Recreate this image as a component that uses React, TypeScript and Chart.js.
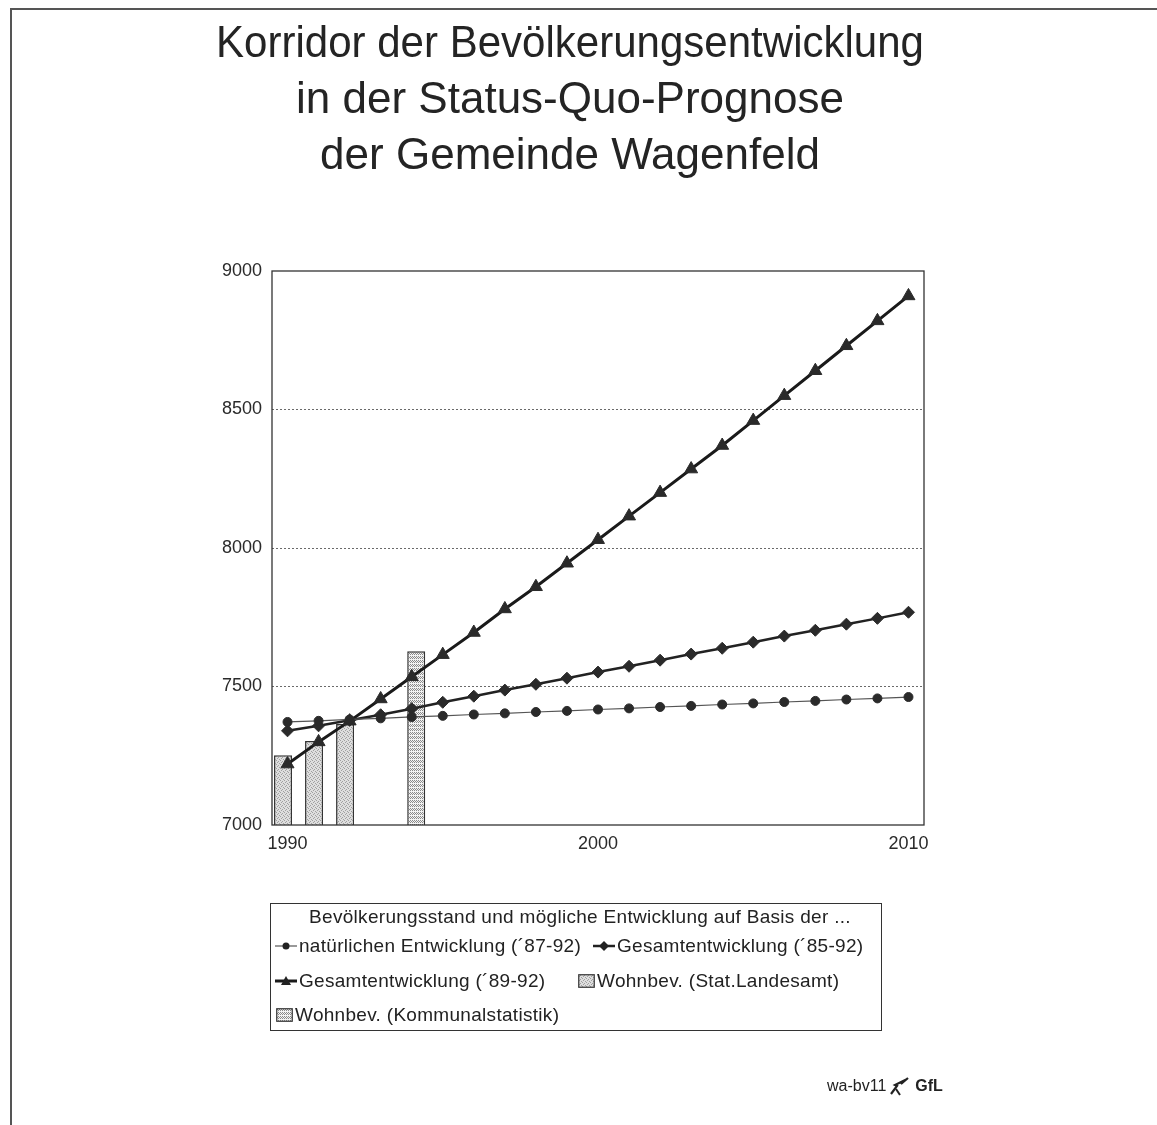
import React, { useEffect, useRef } from 'react';
import { Chart, registerables } from 'chart.js';

Chart.register(...registerables);

const FONT = '"Liberation Sans", Arial, Helvetica, sans-serif';

const titleLines = [
  'Korridor der Bevölkerungsentwicklung',
  'in der Status-Quo-Prognose',
  'der Gemeinde Wagenfeld',
];

const years = [
  '1990', '1991', '1992', '1993', '1994', '1995', '1996', '1997', '1998', '1999', '2000',
  '2001', '2002', '2003', '2004', '2005', '2006', '2007', '2008', '2009', '2010',
];
const shownYearTicks = ['1990', '2000', '2010'];
const yTicks = [7000, 7500, 8000, 8500, 9000];

const natuerlich8792 = [
  7372, 7376, 7381, 7385, 7390, 7394, 7399, 7403, 7408, 7412, 7417,
  7421, 7426, 7430, 7435, 7439, 7444, 7448, 7453, 7457, 7462,
];
const gesamt8592 = [
  7340, 7358, 7378, 7398, 7420, 7443, 7465, 7487, 7508, 7530, 7552,
  7573, 7595, 7617, 7638, 7660, 7682, 7703, 7725, 7746, 7768,
];
const gesamt8992 = [
  7220, 7300, 7375, 7455, 7535, 7615, 7695, 7780, 7860, 7945, 8030,
  8115, 8200, 8285, 8370, 8460, 8550, 8640, 8730, 8820, 8910,
];
const wohnStatLandesamt = [
  7252, 7303, 7365, null, null, null, null, null, null, null, null,
  null, null, null, null, null, null, null, null, null, null,
];
const wohnKommunal = [
  null, null, null, null, 7627, null, null, null, null, null, null,
  null, null, null, null, null, null, null, null, null, null,
];

const legendTitle = 'Bevölkerungsstand und mögliche Entwicklung auf Basis der ...';
const seriesLabels = [
  'natürlichen Entwicklung (´87-92)',
  'Gesamtentwicklung (´85-92)',
  'Gesamtentwicklung (´89-92)',
  'Wohnbev. (Stat.Landesamt)',
  'Wohnbev. (Kommunalstatistik)',
];
const footerCode = 'wa-bv11';
const footerBrand = 'GfL';

function makePattern(kind: 'fine' | 'check'): CanvasPattern | string {
  const c = document.createElement('canvas');
  c.width = 4;
  c.height = 4;
  const g = c.getContext('2d');
  if (!g) return '#ccc';
  if (kind === 'fine') {
    g.fillStyle = '#dedede';
    g.fillRect(0, 0, 4, 4);
    g.fillStyle = '#a0a0a0';
    g.fillRect(0, 0, 1, 1);
    g.fillRect(2, 1, 1, 1);
    g.fillRect(1, 2, 1, 1);
    g.fillRect(3, 3, 1, 1);
  } else {
    g.fillStyle = '#f2f2f2';
    g.fillRect(0, 0, 4, 4);
    g.fillStyle = '#8a8a8a';
    g.fillRect(0, 0, 1, 1);
    g.fillRect(2, 0, 1, 1);
    g.fillRect(1, 1, 1, 1);
    g.fillRect(3, 1, 1, 1);
    g.fillRect(0, 2, 1, 1);
    g.fillRect(2, 2, 1, 1);
  }
  const p = g.createPattern(c, 'repeat');
  return p || '#ccc';
}

const framePlugin = {
  id: 'frameBox',
  afterDatasetsDraw(chart: any) {
    const { ctx, chartArea } = chart;
    ctx.save();
    ctx.strokeStyle = '#333';
    ctx.lineWidth = 1.3;
    ctx.strokeRect(chartArea.left, chartArea.top, chartArea.right - chartArea.left, chartArea.bottom - chartArea.top);
    ctx.restore();
  },
};

function LineIcon({ kind, lw, color }: { kind: string; lw: number; color: string }) {
  let marker: any = null;
  if (kind === 'circle') marker = <circle cx={11} cy={9} r={3.5} fill="#222" />;
  if (kind === 'diamond') marker = <polygon points="11,4 16,9 11,14 6,9" fill="#222" />;
  if (kind === 'triangle') marker = <polygon points="11,4 16,13 6,13" fill="#222" />;
  return (
    <svg width={22} height={18} style={{ display: 'block' }}>
      <line x1={0} y1={9} x2={22} y2={9} stroke={color} strokeWidth={lw} />
      {marker}
    </svg>
  );
}

function BoxIcon({ kind }: { kind: 'fine' | 'check' }) {
  const id = 'pat-' + kind;
  return (
    <svg width={17} height={14} style={{ display: 'block' }}>
      <defs>
        {kind === 'fine' ? (
          <pattern id={id} width={4} height={4} patternUnits="userSpaceOnUse">
            <rect width={4} height={4} fill="#dedede" />
            <rect x={0} y={0} width={1} height={1} fill="#a0a0a0" />
            <rect x={2} y={1} width={1} height={1} fill="#a0a0a0" />
            <rect x={1} y={2} width={1} height={1} fill="#a0a0a0" />
            <rect x={3} y={3} width={1} height={1} fill="#a0a0a0" />
          </pattern>
        ) : (
          <pattern id={id} width={4} height={4} patternUnits="userSpaceOnUse">
            <rect width={4} height={4} fill="#f2f2f2" />
            <rect x={0} y={0} width={1} height={1} fill="#8a8a8a" />
            <rect x={2} y={0} width={1} height={1} fill="#8a8a8a" />
            <rect x={1} y={1} width={1} height={1} fill="#8a8a8a" />
            <rect x={3} y={1} width={1} height={1} fill="#8a8a8a" />
            <rect x={0} y={2} width={1} height={1} fill="#8a8a8a" />
            <rect x={2} y={2} width={1} height={1} fill="#8a8a8a" />
          </pattern>
        )}
      </defs>
      <rect x={0.75} y={0.75} width={15.5} height={12.5} fill={`url(#${id})`} stroke="#333" strokeWidth={1.2} />
    </svg>
  );
}

export default function App() {
  const canvasRef = useRef<HTMLCanvasElement | null>(null);

  useEffect(() => {
    const canvas = canvasRef.current;
    if (!canvas) return;
    const finePat = makePattern('fine');
    const checkPat = makePattern('check');

    const chart = new Chart(canvas, {
      type: 'bar',
      data: {
        labels: years,
        datasets: [
          {
            type: 'line',
            label: seriesLabels[0],
            data: natuerlich8792,
            borderColor: '#555',
            borderWidth: 1.2,
            backgroundColor: '#2a2a2a',
            pointStyle: 'circle',
            pointRadius: 4.5,
            pointBackgroundColor: '#2a2a2a',
            pointBorderColor: '#2a2a2a',
            pointBorderWidth: 1,
            tension: 0,
            order: 1,
          },
          {
            type: 'line',
            label: seriesLabels[1],
            data: gesamt8592,
            borderColor: '#222',
            borderWidth: 2.5,
            backgroundColor: '#2a2a2a',
            pointStyle: 'rectRot',
            pointRadius: 6,
            pointBackgroundColor: '#2a2a2a',
            pointBorderColor: '#2a2a2a',
            pointBorderWidth: 1,
            tension: 0,
            order: 1,
          },
          {
            type: 'line',
            label: seriesLabels[2],
            data: gesamt8992,
            borderColor: '#1a1a1a',
            borderWidth: 3,
            backgroundColor: '#2a2a2a',
            pointStyle: 'triangle',
            pointRadius: 7.5,
            pointBackgroundColor: '#2a2a2a',
            pointBorderColor: '#2a2a2a',
            pointBorderWidth: 1,
            tension: 0,
            order: 1,
          },
          {
            type: 'bar',
            label: seriesLabels[3],
            data: wohnStatLandesamt as any,
            backgroundColor: finePat as any,
            borderColor: '#333',
            borderWidth: 1.5,
            borderSkipped: 'bottom',
            categoryPercentage: 0.58,
            barPercentage: 2.0,
            order: 2,
          },
          {
            type: 'bar',
            label: seriesLabels[4],
            data: wohnKommunal as any,
            backgroundColor: checkPat as any,
            borderColor: '#333',
            borderWidth: 1.5,
            borderSkipped: 'bottom',
            categoryPercentage: 0.58,
            barPercentage: 2.0,
            order: 2,
          },
        ] as any,
      },
      options: {
        responsive: false,
        animation: false,
        layout: { padding: { left: 216, right: 233, top: 0, bottom: 270 } },
        plugins: {
          legend: { display: false },
          tooltip: { enabled: false },
          title: {
            display: true,
            text: titleLines,
            color: '#242424',
            font: { family: FONT, size: 44, weight: 'normal', lineHeight: 56 / 44 },
            padding: { top: 17, bottom: 86 },
          },
        },
        scales: {
          x: {
            type: 'category',
            offset: true,
            grid: { display: false, drawTicks: false },
            border: { display: false },
            ticks: {
              autoSkip: false,
              maxRotation: 0,
              minRotation: 0,
              padding: 8,
              color: '#2a2a2a',
              font: { family: FONT, size: 18 },
              callback: (_v: any, i: number) => (shownYearTicks.includes(years[i]) ? years[i] : ''),
            },
            afterFit: (s: any) => {
              s.height = 30;
            },
          },
          y: {
            min: yTicks[0],
            max: yTicks[yTicks.length - 1],
            grid: {
              drawTicks: false,
              lineWidth: 1,
              color: (ctx: any) =>
                ctx.tick && (ctx.tick.value === yTicks[0] || ctx.tick.value === yTicks[yTicks.length - 1])
                  ? 'rgba(0,0,0,0)'
                  : '#6a6a6a',
            },
            border: { display: false, dash: [2, 2] },
            ticks: {
              stepSize: yTicks[1] - yTicks[0],
              padding: 10,
              color: '#2a2a2a',
              font: { family: FONT, size: 18 },
              callback: (v: any) => String(v),
            },
            afterFit: (s: any) => {
              s.width = 56;
            },
          },
        },
      },
      plugins: [framePlugin],
    } as any);

    return () => chart.destroy();
  }, []);

  const textStyle: React.CSSProperties = {
    fontFamily: FONT,
    fontSize: 19,
    letterSpacing: '0.3px',
    color: '#222',
    whiteSpace: 'nowrap',
    lineHeight: '22px',
  };

  const item = (left: number, top: number, icon: React.ReactNode, iconW: number, label: string) => (
    <div style={{ position: 'absolute', left, top, display: 'flex', alignItems: 'center', height: 22 }}>
      <div style={{ width: iconW, display: 'flex', alignItems: 'center' }}>{icon}</div>
      <span style={textStyle}>{label}</span>
    </div>
  );

  return (
    <div
      style={{
        position: 'absolute',
        left: 0,
        top: 0,
        width: 1157,
        height: 1125,
        overflow: 'hidden',
        background: '#fff',
      }}
    >
      <div
        style={{
          position: 'absolute',
          left: 10,
          top: 8,
          width: 1160,
          height: 1130,
          borderLeft: '2px solid #555',
          borderTop: '2px solid #555',
        }}
      />
      <canvas ref={canvasRef} width={1157} height={1125} style={{ position: 'absolute', left: 0, top: 0 }} />
      <div
        style={{
          position: 'absolute',
          left: 270,
          top: 903,
          width: 612,
          height: 128,
          border: '1.5px solid #333',
          boxSizing: 'border-box',
        }}
      >
        <div style={{ ...textStyle, position: 'absolute', left: 8, right: 0, top: 2, textAlign: 'center' }}>
          {legendTitle}
        </div>
        {item(4, 31, <LineIcon kind="circle" lw={1.2} color="#555" />, 24, seriesLabels[0])}
        {item(322, 31, <LineIcon kind="diamond" lw={2.5} color="#222" />, 24, seriesLabels[1])}
        {item(4, 66, <LineIcon kind="triangle" lw={3} color="#1a1a1a" />, 24, seriesLabels[2])}
        {item(307, 66, <BoxIcon kind="fine" />, 19, seriesLabels[3])}
        {item(5, 100, <BoxIcon kind="check" />, 19, seriesLabels[4])}
      </div>
      <div
        style={{
          position: 'absolute',
          left: 827,
          top: 1075,
          display: 'flex',
          alignItems: 'center',
          fontFamily: FONT,
          fontSize: 16,
          color: '#222',
        }}
      >
        <span>{footerCode}</span>
        <svg width={24} height={22} style={{ margin: '0 3px 0 2px' }}>
          <path d="M3 19 L9 11 L7 10 L15 6 L13 9 L20 3" stroke="#222" strokeWidth={2.2} fill="none" />
          <path d="M8 14 L12 20" stroke="#222" strokeWidth={2} />
        </svg>
        <span style={{ fontWeight: 'bold' }}>{footerBrand}</span>
      </div>
    </div>
  );
}
